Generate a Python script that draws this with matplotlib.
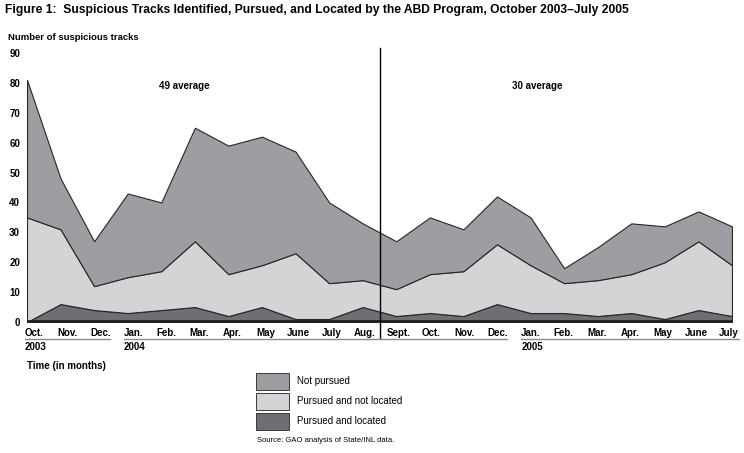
import numpy as np
import matplotlib
matplotlib.use("Agg")
import matplotlib.pyplot as plt
from matplotlib.patches import Rectangle
from matplotlib.lines import Line2D
import matplotlib.transforms as mtransforms

plt.rcParams['font.family'] = ['Liberation Sans', 'DejaVu Sans']

# months Oct 2003 - July 2005
months = ['Oct.', 'Nov.', 'Dec.', 'Jan.', 'Feb.', 'Mar.', 'Apr.', 'May', 'June', 'July', 'Aug.',
          'Sept.', 'Oct.', 'Nov.', 'Dec.', 'Jan.', 'Feb.', 'Mar.', 'Apr.', 'May', 'June', 'July']
years = ['2003', '2004', '2005']
year_start = [0, 3, 15]
year_end = [2, 14, 21]

# cumulative tops
total = [81, 48, 27, 43, 40, 65, 59, 62, 57, 40, 33,
         27, 35, 31, 42, 35, 18, 25, 33, 32, 37, 32]
pursued = [35, 31, 12, 15, 17, 27, 16, 19, 23, 13, 14,
           11, 16, 17, 26, 19, 13, 14, 16, 20, 27, 19]
located = [0, 6, 4, 3, 4, 5, 2, 5, 1, 1, 5,
           2, 3, 2, 6, 3, 3, 2, 3, 1, 4, 2]

averages = ['49 average', '30 average']

located = np.array(located)
not_located = np.array(pursued) - located
not_pursued = np.array(total) - np.array(pursued)

c_np = '#9d9ea1'
c_pnl = '#d3d4d6'
c_pl = '#6e6f72'
edge = '#262626'

W, H = 744, 453
fig = plt.figure(figsize=(W / 100, H / 100), dpi=100)
ax = fig.add_axes([27 / W, 1 - 322 / H, (732 - 27) / W, (322 - 53) / H])

x = np.arange(len(months))
ax.stackplot(x, located, not_located, not_pursued, colors=[c_pl, c_pnl, c_np],
             edgecolor=edge, linewidth=0.8)
ax.axhline(0, color='#1a1a1a', linewidth=2.6, zorder=5)
ax.set_xlim(0, len(months) - 1)
ax.set_ylim(0, 90)

for s in ax.spines.values():
    s.set_visible(False)

ax.set_yticks(range(0, 91, 10))
ax.tick_params(axis='y', length=0, pad=5, labelsize=7)
for t in ax.get_yticklabels():
    t.set_fontweight('bold')

tick_pos = np.arange(len(months)) * 0.986 + 0.21
ax.set_xticks(tick_pos)
ax.set_xticklabels(months, fontsize=7, fontweight='bold')
ax.tick_params(axis='x', length=0, pad=4)

# divider between the two periods
ax.axvline(10.5, ymin=-0.06, ymax=1.02, color='black', linewidth=1.0, clip_on=False, zorder=6)

ax.text(4.7, 79, averages[0], fontsize=7, fontweight='bold', ha='center', va='center')
ax.text(15.2, 79, averages[1], fontsize=7, fontweight='bold', ha='center', va='center')

# year underlines and labels
trans = mtransforms.blended_transform_factory(ax.transData, fig.transFigure)
for yr, a, b in zip(years, year_start, year_end):
    x0 = tick_pos[a] - 0.28
    x1 = tick_pos[b] + 0.28
    fig.add_artist(Line2D([x0, x1], [1 - 339 / H] * 2, transform=trans, color='#8a8a8a', linewidth=1.0))
    fig.text(x0, 1 - 347 / H, yr, transform=trans, fontsize=7, fontweight='bold', va='center', ha='left')

fig.text(27 / W, 1 - 366 / H, 'Time (in months)', fontsize=7, fontweight='bold', va='center')

fig.text(5 / W, 1 - 9.5 / H,
         'Figure 1:  Suspicious Tracks Identified, Pursued, and Located by the ABD Program, October 2003\u2013July 2005',
         fontsize=8.7, fontweight='bold', va='center')
fig.text(8 / W, 1 - 38 / H, 'Number of suspicious tracks', fontsize=6.8, fontweight='bold', va='center')

# legend
labels = ['Not pursued', 'Pursued and not located', 'Pursued and located']
cols = [c_np, c_pnl, c_pl]
tops = [373, 393, 413]
for lab, col, t in zip(labels, cols, tops):
    fig.add_artist(Rectangle((256 / W, 1 - (t + 17) / H), 33 / W, 17 / H, transform=fig.transFigure,
                             facecolor=col, edgecolor='#3a3a3a', linewidth=0.7))
    fig.text(297 / W, 1 - (t + 8.5) / H, lab, fontsize=7, va='center')
fig.text(257 / W, 1 - 440 / H, 'Source: GAO analysis of State/INL data.', fontsize=5.5, va='center')

fig.savefig('out.png', dpi=100)
